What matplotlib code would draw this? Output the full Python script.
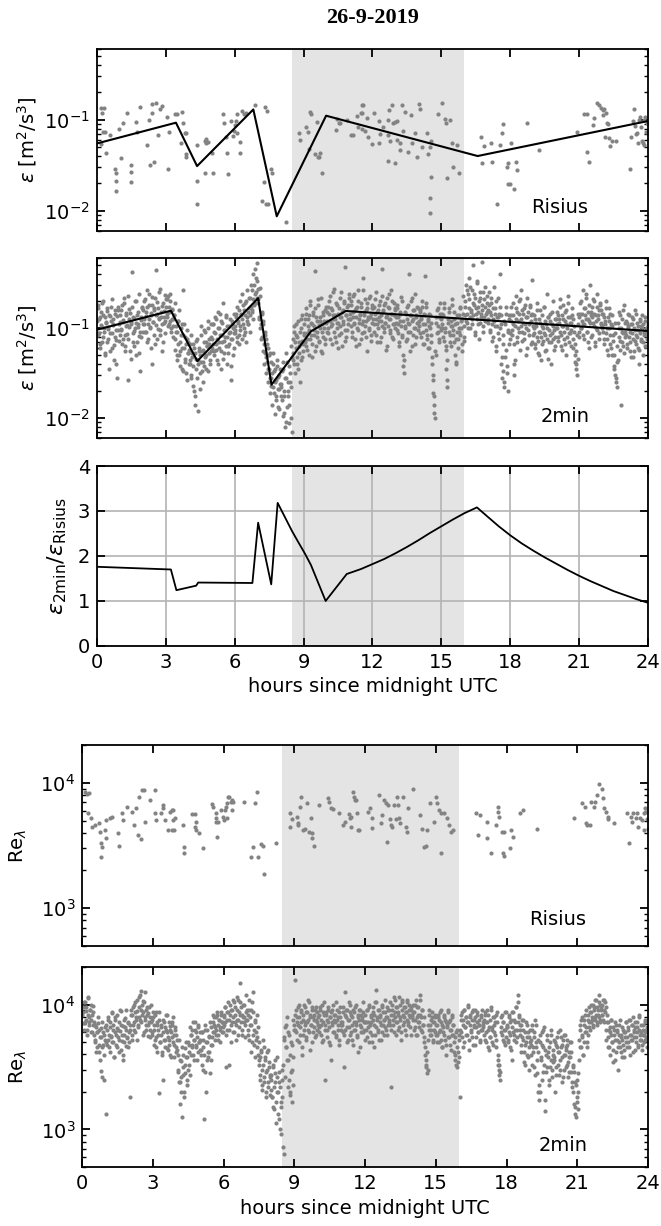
import numpy as np
import matplotlib
matplotlib.use("Agg")
import matplotlib.pyplot as plt
from matplotlib.ticker import LogLocator, NullFormatter, MultipleLocator

# ---------------------------------------------------------------- data
day_title = "26-9-2019"
shade_start, shade_end = 8.5, 16.0
hour_ticks = [0, 3, 6, 9, 12, 15, 18, 21, 24]

# Risius dissipation rate: hours and log10(eps) * 100
eps_risius_hour = [
    0.19, 0.31, 0.22, 0.26, 0.34, 0.16, 0.39, 0.57, 0.78, 0.81, 0.84, 0.81, 1.04, 1.12, 0.96, 1.30,
    1.47, 1.50, 1.47, 1.69, 1.74, 1.89, 2.17, 2.25, 2.33, 2.40, 2.39, 2.48, 2.59, 2.64, 2.75, 2.82,
    3.09, 3.06, 3.13, 3.41, 3.48, 3.71, 3.75, 3.83, 3.88, 3.68, 3.88, 3.88, 4.37, 4.37, 4.34, 4.69,
    4.76, 4.84, 4.76, 4.72, 5.00, 5.07, 5.49, 5.54, 5.62, 5.65, 5.72, 5.85, 5.93, 5.97, 6.00, 6.05,
    6.08, 6.11, 6.24, 6.31, 6.39, 6.21, 6.50, 6.89, 7.32, 7.40, 7.29, 7.17, 7.37, 7.45, 7.56, 7.63,
    8.25, 8.81, 8.84, 9.11, 9.18, 9.22, 9.26, 9.31, 9.49, 9.57, 9.62, 9.68, 9.73, 9.80, 10.46, 10.55,
    10.58, 10.43, 10.89, 11.05, 11.14, 11.31, 11.39, 11.48, 11.54, 11.54, 11.60, 11.54, 11.67, 11.74,
    11.79, 11.98, 12.07, 12.29, 12.29, 12.32, 12.44, 12.67, 12.72, 12.69, 12.75, 12.85, 12.91, 12.98,
    13.06, 13.09, 13.19, 13.22, 12.67, 12.98, 13.30, 13.34, 13.40, 13.53, 13.68, 13.73, 13.92, 14.02,
    13.84, 14.07, 14.15, 14.38, 14.41, 14.49, 14.54, 14.54, 14.49, 14.49, 14.85, 15.05, 15.16, 15.19,
    15.36, 15.23, 15.47, 15.51, 15.70, 15.78, 16.71, 16.79, 16.86, 17.17, 17.22, 17.41, 17.56, 17.64,
    17.67, 17.90, 17.87, 17.90, 18.03, 18.00, 18.15, 18.26, 18.29, 18.73, 19.27, 20.90, 21.22, 21.35,
    21.36, 21.44, 21.60, 21.67, 21.78, 21.87, 21.94, 22.03, 22.09, 22.15, 22.22, 22.28, 22.06, 22.14,
    22.29, 22.34, 22.45, 22.60, 23.22, 23.27, 23.38, 23.33, 23.43, 23.49, 23.53, 23.61, 23.66, 23.69,
    23.74, 23.77, 23.84, 23.89, 23.95, 23.92, 23.81, 23.58,
]
eps_risius_log = [
    -87, -87, -93, -113, -113, -127, -137, -117, -154, -158, -167, -178, -142, -104, -110, -92,
    -157, -150, -168, -102, -113, -86, -128, -100, -150, -92, -83, -146, -81, -117, -88, -85,
    -154, -97, -113, -94, -94, -91, -104, -114, -114, -125, -138, -141, -128, -167, -192, -123,
    -121, -124, -126, -158, -136, -158, -94, -103, -119, -137, -160, -101, -118, -112, -106, -101,
    -94, -114, -124, -90, -94, -136, -93, -84, -86, -90, -168, -189, -192, -192, -154, -158,
    -212, -114, -122, -108, -113, -132, -91, -94, -138, -102, -141, -141, -137, -159, -99, -104,
    -103, -111, -100, -117, -117, -96, -108, -93, -92, -84, -84, -110, -112, -98,
    -119, -127, -92, -101, -125, -116, -108, -100, -89, -117, -123, -84, -103, -102,
    -101, -122, -125, -133, -145, -147, -84, -112, -91, -135, -95, -125, -141, -83,
    -114, -88, -130, -114, -138, -130, -123, -163, -186, -202, -94, -81, -99, -104,
    -100, -164, -126, -152, -128, -158, -119, -147, -129, -125, -146, -192, -128, -114,
    -105, -148, -152, -170, -126, -171, -176, -146, -155, -103, -133, -113, -94, -94,
    -135, -146, -106, -98, -81, -84, -87, -89, -88, -92, -103, -105, -95, -119,
    -120, -129, -123, -123, -154, -119, -88, -101, -107, -116, -114, -100, -97, -108,
    -123, -126, -100, -97, -103, -113, -128, -126,
]

# Risius fit line: hours and eps
fit_risius_hour = [0.0, 3.44, 4.36, 6.81, 7.83, 9.98, 16.58, 24.0]
fit_risius_eps = [0.055, 0.093, 0.031, 0.130, 0.0087, 0.111, 0.040, 0.097]

# 2-minute dissipation rate, log10(eps) * 100, one row per hour (even minutes)
eps_2min_log = [
    -92, -78, -105, -88, -118, -97, -72, -110, -85, -100, -128, -93, -81, -115, -99, -146, -87, -106, -76, -122, -95, -90, -135, -84, -102, -113, -155, -80, -96, -108,
    -86, -101, -74, -112, -93, -66, -120, -98, -83, -107, -158, -90, -79, -125, -96, -38, -88, -116, -103, -70, -94, -130, -85, -99, -62, -109, -148, -91, -77, -104,
    -80, -95, -68, -104, -87, -58, -112, -90, -74, -99, -83, -140, -65, -93, -78, -118, -86, -35, -71, -101, -89, -60, -108, -82, -96, -75, -115, -88, -63, -92,
    -76, -88, -64, -95, -82, -70, -100, -79, -90, -98, -85, -112, -72, -104, -130, -92, -118, -80, -125, -108, -145, -96, -58, -122, -138, -110, -150, -102, -128, -116,
    -124, -140, -108, -155, -132, -118, -170, -128, -186, -145, -112, -135, -192, -122, -150, -98, -138, -126, -160, -115, -142, -104, -130, -120, -148, -92, -118, -135, -110, -125,
    -112, -96, -125, -104, -88, -118, -135, -100, -82, -122, -108, -145, -92, -115, -72, -128, -102, -110, -86, -140, -98, -120, -106, -90, -158, -112, -95, -130, -84, -105,
    -98, -84, -110, -76, -92, -118, -70, -102, -86, -62, -95, -108, -80, -72, -115, -88, -58, -96, -78, -66, -104, -52, -82, -90, -40, -74, -34, -60, -28, -48,
    -68, -90, -55, -100, -112, -82, -125, -96, -140, -108, -132, -150, -118, -160, -145, -172, -128, -155, -185, -140, -165, -148, -195, -158, -176, -135, -188, -152, -168, -145,
    -165, -148, -198, -138, -175, -210, -155, -128, -188, -170, -142, -205, -160, -120, -215, -112, -135, -98, -150, -122, -108, -140, -92, -128, -115, -160, -100, -132, -86, -118,
    -105, -90, -120, -78, -112, -98, -130, -85, -70, -108, -95, -118, -82, -102, -36, -125, -88, -110, -74, -97, -115, -92, -66, -104, -128, -86, -100, -80, -112, -94,
    -92, -76, -105, -84, -64, -98, -118, -80, -90, -56, -110, -86, -72, -100, -94, -122, -78, -88, -60, -106, -82, -96, -70, -114, -32, -86, -102, -74, -90, -66,
    -84, -98, -70, -110, -88, -62, -94, -80, -120, -76, -102, -58, -90, -86, -112, -72, -96, -44, -82, -104, -68, -92, -126, -78, -88, -100, -64, -84, -108, -74,
    -90, -76, -104, -84, -60, -96, -116, -80, -88, -70, -110, -92, -34, -82, -100, -74, -94, -124, -86, -66, -98, -78, -106, -90, -58, -84, -112, -72, -96, -80,
    -88, -102, -74, -96, -116, -82, -92, -65, -108, -130, -142, -150, -98, -84, -112, -76, -94, -40, -86, -104, -70, -120, -90, -80, -100, -62, -110, -86, -94, -78,
    -92, -80, -106, -88, -70, -118, -96, -84, -42, -102, -76, -112, -90, -98, -122, -86, -108, -140, -158, -172, -186, -200, -130, -94, -80, -104, -116, -88, -72, -100,
    -96, -84, -110, -72, -100, -120, -145, -165, -90, -104, -78, -116, -92, -68, -98, -108, -82, -130, -112, -140, -94, -122, -86, -104, -76, -100, -118, -90, -64, -110,
    -70, -86, -52, -94, -62, -78, -44, -100, -82, -58, -90, -30, -74, -108, -66, -84, -48, -96, -76, -112, -60, -88, -26, -80, -104, -68, -92, -54, -84, -72,
    -80, -94, -60, -102, -86, -72, -114, -90, -54, -98, -78, -126, -88, -66, -106, -84, -40, -96, -140, -155, -118, -165, -92, -132, -76, -150, -104, -170, -86, -112,
    -92, -76, -108, -86, -140, -152, -98, -64, -116, -82, -100, -70, -124, -90, -58, -104, -84, -112, -78, -96, -130, -88, -66, -102, -94, -74, -118, -86, -46, -108,
    -100, -86, -118, -94, -72, -110, -128, -90, -104, -80, -136, -98, -114, -76, -106, -92, -124, -62, -100, -88, -116, -108, -84, -140, -96, -112, -70, -102, -120, -90,
    -96, -82, -110, -90, -68, -104, -120, -86, -98, -74, -112, -92, -130, -80, -100, -64, -116, -88, -106, -94, -78, -122, -90, -104, -138, -146, -126, -152, -84, -110,
    -88, -72, -100, -84, -58, -96, -112, -78, -90, -66, -104, -82, -122, -92, -52, -86, -108, -76, -94, -70, -116, -86, -100, -62, -90, -80, -106, -74, -96, -84,
    -98, -84, -112, -92, -70, -106, -124, -88, -100, -78, -118, -96, -130, -86, -108, -142, -152, -94, -160, -166, -136, -100, -82, -114, -186, -104, -90, -120, -74, -110,
    -104, -92, -118, -98, -84, -110, -126, -96, -106, -88, -132, -100, -114, -80, -108, -94, -122, -102, -140, -90, -112, -98, -86, -116, -104, -92, -120, -100, -108, -96,
]

# 2-minute dissipation rate, windows centred on odd minutes
eps_2min_log_b = [
    -74, -108, -90, -122, -82, -99, -116, -70, -104, -88, -130, -94, -78, -112, -101, -85, -126, -92, -68, -106, -97, -119, -80, -110, -140, -87, -102, -76, -114, -93,
    -102, -80, -118, -91, -72, -108, -126, -86, -97, -64, -112, -99, -83, -134, -93, -76, -105, -120, -89, -100, -70, -115, -95, -82, -128, -104, -88, -110, -78, -96,
    -90, -70, -104, -82, -116, -76, -95, -62, -100, -86, -122, -74, -93, -80, -108, -66, -97, -84, -112, -78, -90, -56, -102, -88, -126, -72, -94, -81, -106, -68,
    -84, -68, -98, -76, -92, -62, -104, -80, -90, -110, -86, -124, -98, -136, -104, -92, -130, -116, -142, -100, -122, -108, -148, -96, -134, -118, -158, -112, -128, -140,
    -136, -118, -152, -128, -164, -142, -122, -176, -134, -114, -156, -140, -126, -168, -130, -108, -148, -124, -138, -102, -132, -116, -146, -120, -100, -128, -112, -140, -96, -122,
    -118, -96, -130, -106, -90, -124, -112, -140, -100, -116, -84, -126, -108, -94, -134, -114, -102, -120, -88, -110, -128, -98, -118, -104, -142, -92, -112, -100, -122, -106,
    -102, -88, -116, -94, -80, -108, -98, -84, -112, -90, -74, -100, -86, -104, -70, -92, -82, -96, -66, -86, -76, -58, -80, -68, -52, -72, -62, -44, -66, -56,
    -72, -88, -64, -96, -84, -110, -92, -118, -104, -128, -112, -138, -122, -146, -130, -156, -138, -164, -150, -128, -172, -146, -160, -180, -142, -168, -154, -190, -162, -176,
    -162, -180, -146, -194, -170, -156, -204, -138, -176, -160, -186, -150, -200, -166, -132, -128, -104, -140, -116, -96, -132, -110, -146, -120, -104, -136, -90, -114, -126, -108,
    -96, -116, -84, -106, -124, -90, -102, -74, -112, -94, -132, -86, -108, -98, -78, -120, -92, -104, -68, -114, -100, -88, -126, -96, -82, -110, -92, -118, -76, -104,
    -82, -100, -70, -92, -112, -78, -96, -86, -60, -104, -90, -116, -74, -94, -84, -108, -66, -98, -88, -120, -80, -92, -72, -102, -86, -110, -76, -96, -62, -90,
    -90, -74, -104, -82, -64, -96, -112, -78, -88, -100, -70, -94, -118, -84, -76, -106, -92, -58, -86, -98, -80, -110, -72, -90, -102, -66, -88, -114, -78, -94,
    -78, -96, -68, -90, -108, -82, -100, -74, -92, -116, -86, -64, -98, -80, -104, -72, -94, -88, -120, -76, -90, -62, -102, -84, -110, -70, -96, -86, -78, -100,
    -94, -78, -106, -88, -120, -84, -98, -70, -110, -92, -136, -100, -82, -114, -90, -74, -104, -96, -126, -86, -92, -66, -108, -80, -100, -118, -88, -76, -102, -94,
    -98, -82, -110, -90, -76, -104, -118, -86, -96, -72, -108, -92, -122, -84, -100, -116, -94, -132, -152, -176, -194, -126, -88, -106, -78, -98, -112, -84, -102, -90,
    -100, -86, -114, -78, -104, -124, -136, -158, -94, -82, -108, -98, -120, -74, -102, -90, -116, -96, -138, -104, -86, -112, -100, -78, -108, -92, -126, -84, -98, -114,
    -76, -92, -58, -84, -100, -68, -88, -54, -80, -96, -72, -86, -62, -104, -78, -90, -50, -82, -70, -94, -66, -84, -74, -98, -60, -88, -76, -92, -64, -82,
    -90, -74, -104, -82, -66, -96, -110, -78, -92, -84, -120, -70, -98, -88, -112, -76, -100, -86, -132, -148, -108, -160, -96, -124, -84, -142, -102, -118, -90, -106,
    -86, -102, -72, -96, -118, -136, -90, -78, -110, -92, -84, -104, -68, -98, -114, -80, -94, -106, -74, -100, -88, -122, -82, -96, -108, -76, -92, -116, -84, -98,
    -106, -90, -122, -98, -80, -114, -104, -130, -94, -110, -86, -118, -100, -76, -108, -126, -96, -112, -88, -134, -102, -92, -116, -82, -106, -98, -124, -90, -110, -100,
    -100, -86, -114, -94, -76, -108, -98, -124, -90, -104, -82, -118, -96, -110, -88, -72, -106, -94, -120, -102, -86, -112, -98, -130, -118, -140, -108, -134, -96, -104,
    -84, -100, -70, -92, -108, -78, -96, -86, -62, -104, -90, -116, -74, -94, -82, -110, -88, -68, -98, -84, -120, -92, -76, -102, -86, -112, -72, -94, -80, -100,
    -104, -88, -118, -96, -78, -112, -100, -130, -92, -108, -84, -122, -98, -114, -130, -146, -106, -156, -120, -138, -94, -110, -86, -124, -100, -116, -80, -106, -128, -94,
    -108, -94, -122, -100, -86, -116, -104, -132, -96, -112, -90, -126, -102, -118, -84, -110, -98, -124, -106, -92, -114, -100, -130, -96, -108, -88, -120, -104, -112, -98,
]

# 2-minute fit line: hours and eps
fit_2min_hour = [0.0, 3.22, 4.37, 7.02, 7.60, 9.32, 10.84, 24.0]
fit_2min_eps = [0.096, 0.156, 0.043, 0.215, 0.0235, 0.092, 0.155, 0.093]

# ratio eps_2min / eps_Risius
ratio_hour = [0.0, 3.22, 3.46, 4.32, 4.41, 6.77, 7.02, 7.59, 7.87, 8.2, 8.5, 8.8, 9.05, 9.32,
              9.96, 10.88, 11.5, 12.0, 12.5, 13.0, 13.5, 14.0, 14.5, 15.0, 15.5, 16.0, 16.55,
              17.0, 17.5, 18.0, 18.5, 19.0, 19.5, 20.0, 20.5, 21.0, 21.5, 22.0, 22.5, 23.0,
              23.5, 24.0]
ratio_vals = [1.76, 1.70, 1.24, 1.34, 1.41, 1.40, 2.74, 1.37, 3.18, 2.85, 2.55, 2.28, 2.06, 1.80,
              1.00, 1.60, 1.71, 1.82, 1.93, 2.06, 2.20, 2.35, 2.51, 2.66, 2.81, 2.95, 3.08,
              2.88, 2.66, 2.46, 2.28, 2.12, 1.97, 1.83, 1.69, 1.56, 1.44, 1.33, 1.22, 1.13,
              1.04, 0.96]

# Risius Taylor Reynolds number: hours and log10(Re) * 100
re_risius_hour = [
    0.13, 0.22, 0.31, 0.25, 0.36, 0.43, 0.57, 0.75, 0.72, 0.81, 0.84, 0.81, 0.99, 1.02, 1.17, 1.26,
    1.02, 1.51, 1.56, 1.71, 1.74, 1.92, 2.10, 2.19, 2.28, 2.37, 2.48, 2.42, 2.55, 2.64, 2.66, 2.87,
    3.09, 3.09, 3.12, 3.36, 3.45, 3.45, 3.50, 3.63, 3.72, 3.81, 3.81, 3.84, 3.90, 3.95, 3.86, 4.27,
    4.34, 4.34, 4.67, 4.78, 4.83, 4.79, 4.85, 4.97, 5.12, 5.51, 5.57, 5.66, 5.66, 5.69, 5.73, 5.78,
    5.91, 5.96, 6.01, 6.05, 6.10, 6.14, 6.14, 6.19, 6.23, 6.32, 6.37, 6.41, 6.37, 6.86, 7.18, 7.27,
    7.34, 7.40, 7.45, 7.58, 7.67, 7.72, 8.24, 8.80, 8.83, 8.89, 9.10, 9.16, 9.16, 9.23, 9.28, 9.37,
    9.46, 9.55, 9.64, 9.73, 9.73, 9.82, 9.69, 10.04, 10.41, 10.48, 10.54, 10.63, 10.90, 11.08, 11.17,
    11.31, 11.35, 11.40, 11.40, 11.49, 11.53, 11.58, 11.62, 11.67, 11.71, 11.74, 12.12, 12.21, 12.28,
    12.30, 12.60, 12.69, 12.73, 12.82, 12.87, 12.93, 12.96, 13.05, 13.11, 13.14, 13.23, 13.32, 13.36,
    13.41, 13.46, 13.50, 13.59, 13.72, 13.77, 13.82, 14.04, 14.34, 14.40, 14.49, 14.58, 14.61, 14.76,
    14.94, 15.03, 15.06, 15.12, 15.21, 15.21, 15.35, 15.48, 15.57, 15.66, 15.75, 16.70, 16.79, 16.86,
    17.18, 17.18, 17.36, 17.54, 17.63, 17.63, 17.68, 17.81, 17.85, 17.90, 17.90, 18.13, 18.20, 18.26,
    18.56, 18.71, 19.28, 20.86, 21.22, 21.31, 21.36, 21.40, 21.54, 21.58, 21.71, 21.76, 21.85, 21.94,
    22.03, 22.08, 22.12, 22.21, 22.30, 22.30, 22.57, 23.11, 23.20, 23.29, 23.34, 23.38, 23.47, 23.55,
    23.59, 23.64, 23.73, 23.82, 23.82, 23.88, 23.91, 23.97, 23.99,
]
re_risius_log = [
    393, 391, 392, 376, 372, 365, 366, 361, 368, 352, 349, 341, 362, 370, 372, 373,
    356, 360, 350, 376, 370, 381, 377, 366, 380, 358, 355, 389, 394, 394, 369, 386,
    394, 376, 370, 376, 382, 380, 370, 362, 377, 362, 378, 370, 362, 372, 378, 366,
    349, 344, 375, 375, 362, 365, 369, 360, 348, 383, 381, 376, 372, 369, 357, 369,
    378, 373, 370, 378, 381, 372, 384, 389, 389, 385, 386, 385, 378, 385, 341, 349,
    384, 393, 341, 351, 350, 327, 352, 365, 376, 371, 373, 368, 366, 381, 389, 362,
    363, 384, 361, 360, 356, 350, 372, 382, 388, 385, 380, 379, 376, 366, 369,
    375, 372, 373, 365, 393, 389, 386, 386, 376, 362, 362, 377, 380, 372,
    364, 390, 368, 374, 386, 384, 353, 382, 371, 366, 365, 382, 371, 389,
    382, 372, 368, 389, 365, 361, 380, 395, 374, 363, 349, 350, 362, 384,
    369, 389, 384, 378, 344, 376, 376, 372, 366, 361, 362, 376, 358, 374,
    356, 369, 344, 366, 377, 381, 373, 361, 344, 342, 361, 348, 362, 357,
    376, 378, 363, 372, 384, 381, 368, 366, 366, 385, 381, 385, 390, 399,
    395, 388, 380, 377, 373, 371, 368, 376, 352, 373, 369, 376, 372, 376,
    365, 372, 370, 376, 362, 380, 377, 371, 363,
]

# 2-minute Taylor Reynolds number, log10(Re) * 100, one row per hour (even minutes)
re_2min_log = [
    392, 398, 385, 402, 388, 395, 380, 405, 390, 386, 396, 378, 392, 384, 399, 376, 370, 382, 366, 378, 385, 362, 374, 347, 381, 342, 368, 376, 340, 372,
    312, 380, 372, 388, 366, 382, 375, 393, 370, 384, 358, 378, 390, 368, 381, 374, 386, 362, 379, 395, 371, 383, 356, 376, 389, 367, 380, 373, 385, 370,
    326, 384, 392, 376, 398, 386, 380, 402, 390, 372, 395, 384, 406, 388, 411, 396, 392, 403, 378, 410, 390, 384, 398, 375, 393, 386, 380, 400, 388, 376,
    390, 380, 372, 394, 366, 384, 376, 388, 329, 370, 382, 362, 378, 340, 386, 372, 380, 365, 392, 374, 368, 383, 360, 378, 386, 370, 358, 376, 382, 366,
    372, 348, 360, 338, 320, 355, 342, 310, 350, 330, 365, 345, 358, 336, 370, 352, 362, 344, 376, 368, 380, 360, 372, 386, 366, 378, 356, 382, 370, 364,
    372, 360, 378, 348, 366, 308, 380, 330, 356, 370, 362, 375, 345, 368, 382, 374, 386, 378, 390, 382, 376, 392, 384, 372, 388, 380, 394, 378, 386, 382,
    392, 386, 398, 350, 380, 394, 352, 388, 400, 384, 396, 378, 390, 402, 386, 372, 396, 388, 404, 382, 417, 392, 398, 376, 390, 386, 400, 374, 394, 388,
    392, 376, 404, 384, 362, 396, 370, 410, 380, 358, 388, 372, 366, 382, 356, 352, 340, 364, 332, 348, 372, 338, 356, 326, 346, 362, 334, 350, 328, 342,
    340, 326, 352, 318, 334, 345, 305, 330, 358, 312, 338, 300, 322, 296, 348, 286, 280, 372, 382, 366, 390, 356, 378, 340, 330, 346, 322, 368, 336, 384,
    420, 392, 378, 386, 398, 370, 390, 382, 396, 360, 388, 376, 400, 384, 372, 394, 386, 380, 402, 390, 364, 384, 396, 378, 388, 392, 374, 398, 386, 380,
    390, 382, 396, 376, 388, 400, 372, 392, 384, 340, 394, 380, 386, 398, 370, 390, 356, 384, 396, 378, 392, 386, 402, 374, 388, 380, 394, 368, 390, 384,
    386, 394, 378, 350, 410, 390, 382, 396, 372, 388, 400, 376, 392, 384, 368, 394, 380, 398, 386, 374, 390, 362, 396, 384, 378, 392, 388, 402, 380, 386,
    392, 380, 396, 386, 370, 398, 384, 390, 376, 394, 388, 366, 402, 382, 412, 390, 378, 396, 386, 392, 372, 400, 384, 388, 376, 394, 380, 398, 390, 384,
    396, 384, 334, 392, 400, 388, 378, 404, 394, 386, 398, 380, 392, 406, 388, 372, 396, 402, 384, 390, 398, 376, 394, 404, 386, 392, 400, 382, 396, 390,
    400, 388, 394, 382, 404, 390, 376, 398, 386, 408, 392, 380, 396, 384, 370, 390, 360, 352, 345, 348, 384, 392, 376, 388, 380, 394, 372, 386, 378, 390,
    384, 376, 392, 370, 388, 380, 396, 366, 384, 378, 390, 372, 386, 360, 382, 394, 374, 388, 368, 380, 392, 376, 384, 362, 356, 378, 350, 366, 354, 372,
    326, 388, 378, 394, 384, 370, 396, 382, 390, 376, 400, 386, 364, 392, 380, 388, 374, 396, 384, 390, 368, 382, 394, 378, 388, 384, 372, 392, 380, 386,
    384, 376, 392, 370, 386, 396, 380, 364, 388, 374, 398, 382, 368, 390, 378, 386, 372, 394, 360, 352, 344, 340, 382, 390, 376, 386, 370, 394, 380, 374,
    384, 372, 390, 378, 366, 388, 356, 382, 394, 376, 386, 370, 398, 380, 408, 392, 384, 376, 362, 388, 372, 380, 354, 368, 386, 374, 360, 378, 348, 370,
    372, 360, 384, 366, 378, 350, 388, 370, 345, 362, 330, 324, 376, 356, 368, 340, 380, 352, 315, 364, 346, 372, 358, 336, 366, 350, 376, 342, 360, 354,
    358, 330, 368, 350, 374, 362, 344, 380, 356, 366, 338, 372, 360, 348, 376, 364, 352, 368, 342, 358, 370, 346, 362, 334, 350, 320, 312, 338, 310, 326,
    316, 345, 372, 384, 366, 390, 376, 360, 388, 378, 396, 382, 370, 392, 386, 398, 380, 394, 388, 400, 384, 396, 390, 404, 386, 398, 392, 408, 388, 400,
    398, 392, 404, 386, 396, 402, 380, 392, 374, 386, 366, 382, 376, 388, 370, 354, 380, 372, 386, 362, 378, 348, 370, 384, 366, 376, 358, 372, 380, 364,
    378, 370, 386, 374, 382, 366, 388, 376, 372, 384, 362, 380, 374, 386, 370, 378, 382, 366, 390, 376, 372, 384, 368, 380, 376, 388, 372, 378, 382, 374,
]

# 2-minute Taylor Reynolds number, windows centred on odd minutes
re_2min_log_b = [
    394, 380, 402, 386, 398, 376, 392, 406, 384, 396, 388, 400, 378, 394, 386, 372, 384, 362, 378, 390, 368, 380, 356, 374, 386, 366, 378, 360, 382, 370,
    384, 368, 390, 376, 362, 386, 374, 394, 370, 380, 358, 388, 376, 366, 392, 380, 372, 396, 364, 384, 376, 360, 388, 370, 382, 396, 374, 366, 386, 378,
    380, 396, 372, 392, 384, 400, 378, 394, 388, 404, 382, 398, 390, 408, 386, 400, 394, 376, 402, 388, 396, 380, 392, 384, 398, 374, 390, 386, 378, 394,
    384, 368, 392, 374, 386, 362, 380, 394, 370, 384, 376, 360, 388, 372, 382, 366, 392, 378, 364, 386, 372, 380, 358, 384, 374, 390, 368, 380, 362, 376,
    364, 346, 372, 338, 356, 330, 366, 344, 360, 326, 352, 370, 340, 358, 348, 368, 382, 360, 376, 366, 386, 372, 356, 380, 368, 374, 362, 384, 370, 378,
    364, 378, 352, 372, 360, 384, 346, 370, 380, 358, 374, 362, 386, 356, 368, 378, 392, 384, 372, 390, 380, 394, 376, 388, 382, 370, 392, 386, 378, 390,
    384, 398, 376, 394, 388, 402, 380, 392, 370, 396, 386, 404, 378, 392, 398, 384, 406, 388, 376, 394, 402, 386, 392, 380, 400, 390, 384, 408, 388, 396,
    380, 396, 372, 390, 384, 402, 376, 394, 368, 386, 378, 392, 374, 360, 370, 358, 344, 362, 336, 352, 366, 342, 358, 330, 348, 364, 338, 354, 344, 332,
    344, 326, 350, 316, 338, 356, 322, 342, 330, 308, 346, 334, 318, 340, 326, 352, 374, 342, 366, 384, 356, 334, 376, 360, 328, 370, 348, 388, 358, 380,
    380, 396, 372, 390, 384, 400, 376, 394, 386, 366, 392, 380, 398, 386, 374, 394, 388, 404, 378, 392, 384, 398, 370, 390, 382, 396, 388, 376, 394, 384,
    392, 378, 398, 384, 370, 394, 386, 402, 380, 392, 374, 388, 396, 382, 390, 368, 394, 386, 400, 378, 388, 392, 376, 396, 384, 390, 372, 398, 386, 380,
    384, 398, 376, 392, 380, 396, 370, 388, 402, 382, 394, 378, 390, 372, 396, 386, 380, 400, 384, 376, 392, 388, 366, 396, 382, 390, 378, 394, 386, 372,
    386, 374, 396, 382, 400, 378, 392, 386, 370, 398, 384, 392, 376, 402, 388, 380, 396, 372, 390, 384, 398, 378, 394, 388, 404, 382, 390, 376, 396, 386,
    388, 402, 380, 396, 392, 384, 406, 390, 376, 398, 386, 394, 382, 400, 390, 378, 404, 392, 386, 398, 380, 394, 388, 402, 384, 396, 390, 376, 398, 392,
    394, 380, 400, 388, 376, 398, 386, 392, 382, 404, 390, 378, 396, 384, 374, 366, 356, 350, 362, 372, 380, 396, 384, 376, 390, 370, 386, 380, 392, 376,
    384, 370, 390, 378, 394, 372, 386, 366, 382, 392, 376, 388, 368, 384, 396, 374, 386, 380, 364, 390, 376, 384, 370, 360, 374, 352, 380, 362, 376, 358,
    380, 392, 374, 388, 366, 396, 382, 390, 376, 386, 398, 372, 390, 384, 378, 394, 368, 388, 382, 396, 374, 386, 392, 378, 384, 370, 390, 380, 396, 382,
    388, 372, 394, 378, 386, 366, 392, 382, 374, 396, 380, 370, 390, 384, 376, 392, 366, 386, 356, 348, 352, 346, 378, 392, 372, 386, 380, 368, 394, 382,
    382, 370, 392, 376, 386, 364, 394, 378, 372, 388, 380, 398, 374, 386, 402, 390, 380, 368, 384, 374, 388, 362, 378, 352, 370, 384, 358, 374, 366, 380,
    368, 352, 380, 362, 374, 344, 384, 366, 356, 372, 336, 330, 370, 358, 378, 346, 366, 382, 324, 360, 350, 376, 362, 340, 370, 356, 380, 348, 364, 372,
    356, 370, 344, 366, 378, 352, 362, 348, 374, 358, 368, 342, 376, 360, 350, 366, 372, 354, 362, 346, 358, 370, 338, 352, 330, 346, 318, 336, 322, 340,
    330, 356, 380, 366, 388, 374, 360, 384, 370, 392, 378, 366, 388, 376, 382, 394, 386, 400, 390, 382, 398, 388, 404, 392, 384, 396, 390, 402, 386, 396,
    392, 400, 388, 404, 394, 398, 372, 386, 366, 380, 360, 378, 388, 370, 382, 364, 376, 356, 384, 372, 380, 366, 376, 388, 362, 374, 382, 368, 378, 358,
    374, 386, 366, 380, 370, 388, 360, 376, 384, 372, 390, 378, 364, 382, 374, 386, 368, 380, 392, 372, 378, 364, 384, 376, 370, 386, 374, 380, 366, 378,
]

# ---------------------------------------------------------------- style
plt.rcParams.update({
    "font.family": "DejaVu Sans",
    "font.size": 14,
    "mathtext.fontset": "dejavusans",
    "axes.linewidth": 1.3,
    "xtick.direction": "in",
    "ytick.direction": "in",
    "xtick.top": True,
    "ytick.right": True,
    "xtick.major.size": 5.5,
    "ytick.major.size": 5.5,
    "xtick.minor.size": 3,
    "ytick.minor.size": 3,
    "xtick.major.width": 1.3,
    "ytick.major.width": 1.3,
    "ytick.minor.width": 1.0,
    "xtick.major.pad": 5,
    "ytick.major.pad": 5,
})

DOT = "#838383"
SHADE = "#e4e4e4"
DOT_SIZE = 9

t_2min = np.arange(len(eps_2min_log)) / 30.0 + 1.0 / 60.0
t_2min_b = t_2min + 1.0 / 60.0

fig = plt.figure(figsize=(6.61, 12.26), dpi=100)
ax1 = fig.add_axes([0.1467, 0.8116, 0.8336, 0.1484])
ax2 = fig.add_axes([0.1467, 0.6427, 0.8336, 0.1468])
ax3 = fig.add_axes([0.1467, 0.4731, 0.8336, 0.1468])
ax4 = fig.add_axes([0.1241, 0.2284, 0.8563, 0.1639])
ax5 = fig.add_axes([0.1241, 0.0481, 0.8563, 0.1631])


def log_axis(ax, lo, hi):
    ax.set_yscale("log")
    ax.set_ylim(lo, hi)
    ax.yaxis.set_major_locator(LogLocator(base=10, numticks=10))
    ax.yaxis.set_minor_locator(LogLocator(base=10, subs=np.arange(2, 10), numticks=20))
    ax.yaxis.set_minor_formatter(NullFormatter())


def dots(ax, x, logvals):
    ax.scatter(x, 10 ** (np.array(logvals) / 100.0), s=DOT_SIZE, color=DOT, lw=0, zorder=2)


for ax in (ax1, ax2, ax3, ax4, ax5):
    ax.axvspan(shade_start, shade_end, color=SHADE, lw=0, zorder=0)
    ax.set_xlim(0, 24)
    ax.set_xticks(hour_ticks)

# panel 1: Risius dissipation
dots(ax1, eps_risius_hour, eps_risius_log)
ax1.plot(fit_risius_hour, fit_risius_eps, color="black", lw=1.5, zorder=3)
log_axis(ax1, 0.006, 0.6)
ax1.set_ylabel(r"$\varepsilon$ [m$^2$/s$^3$]")
ax1.text(0.84, 0.13, "Risius", transform=ax1.transAxes, ha="center", va="center")

# panel 2: 2-minute dissipation
dots(ax2, t_2min, eps_2min_log)
dots(ax2, t_2min_b, eps_2min_log_b)
ax2.plot(fit_2min_hour, fit_2min_eps, color="black", lw=1.5, zorder=3)
log_axis(ax2, 0.006, 0.6)
ax2.set_ylabel(r"$\varepsilon$ [m$^2$/s$^3$]")
ax2.text(0.85, 0.12, "2min", transform=ax2.transAxes, ha="center", va="center")

for ax in (ax1, ax2, ax4):
    ax.tick_params(axis="x", labelbottom=False)

# panel 3: ratio
ax3.plot(ratio_hour, ratio_vals, color="black", lw=1.3, zorder=3)
ax3.set_ylim(0, 4)
ax3.yaxis.set_major_locator(MultipleLocator(1))
ax3.grid(True, color="#b3b3b3", lw=1.2)
ax3.set_ylabel(r"$\varepsilon_{\rm 2min}/\varepsilon_{\rm Risius}$", fontsize=16, labelpad=6)
ax3.set_xlabel("hours since midnight UTC")

# panel 4: Risius Reynolds number
dots(ax4, re_risius_hour, re_risius_log)
log_axis(ax4, 500, 2e4)
ax4.set_ylabel(r"Re$_\lambda$", labelpad=8)
ax4.text(0.84, 0.13, "Risius", transform=ax4.transAxes, ha="center", va="center")

# panel 5: 2-minute Reynolds number
dots(ax5, t_2min, re_2min_log)
dots(ax5, t_2min_b, re_2min_log_b)
log_axis(ax5, 500, 2e4)
ax5.set_ylabel(r"Re$_\lambda$", labelpad=8)
ax5.set_xlabel("hours since midnight UTC")
ax5.text(0.85, 0.11, "2min", transform=ax5.transAxes, ha="center", va="center")

fig.text(0.5635, 0.985, day_title, ha="center", va="center",
         family="Liberation Serif", weight="bold", size=16)

fig.savefig("out.png", dpi=100)
